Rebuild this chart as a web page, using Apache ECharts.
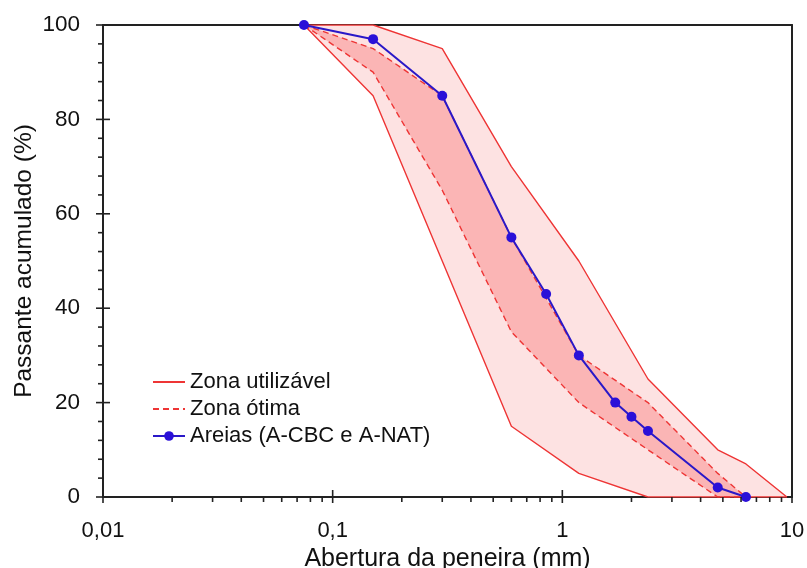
<!DOCTYPE html>
<html>
<head>
<meta charset="utf-8">
<script src="https://cdn.jsdelivr.net/npm/echarts@6/dist/echarts.min.js"></script>
<style>
html,body{margin:0;padding:0;background:#fff;}
#chart{width:807px;height:568px;}
</style>
</head>
<body>
<div id="chart"></div>
<script>
// ---- data ----
var sieves = [0.075, 0.15, 0.3, 0.6, 1.18, 2.36, 4.75, 6.3, 9.5];
var utilUpper = [100, 100, 95, 70, 50, 25, 10, 7, 0];
var utilLower = [100, 85, 50, 15, 5, 0, 0, 0, 0];
var otimaSieves = [0.075, 0.15, 0.3, 0.6, 1.18, 2.36, 4.75, 6.3];
var otimaUpper = [100, 95, 85, 55, 30, 20, 5, 0];
var otimaLower = [100, 90, 65, 35, 20, 10, 0, 0];
var areiasX = [0.075, 0.15, 0.3, 0.6, 0.85, 1.18, 1.7, 2.0, 2.36, 4.75, 6.3];
var areiasY = [100, 97, 85, 55, 43, 30, 20, 17, 14, 2, 0];
var xTickLabels = ['0,01', '0,1', '1', '10'];
var xMajorTicks = [0.01, 0.1, 1, 10];
var xMinorTicks = [0.02, 0.03, 0.04, 0.05, 0.06, 0.07, 0.08, 0.09,
                   0.2, 0.3, 0.4, 0.5, 0.6, 0.7, 0.8, 0.9,
                   2, 3, 4, 5, 6, 7, 8, 9];
var yMajorTicks = [0, 20, 40, 60, 80, 100];
var yMinorTicks = [4, 8, 12, 16, 24, 28, 32, 36, 44, 48, 52, 56, 64, 68, 72, 76, 84, 88, 92, 96];

var FONT = '"Liberation Sans", Arial, sans-serif';
var RED = '#ee3535';
var BLUE = '#2a18c8';

function zip(xs, ys) { return xs.map(function (x, i) { return [x, ys[i]]; }); }

function bandSeries(name, xs, up, lo, color, z) {
  return {
    type: 'custom', name: name, z: z, silent: true,
    coordinateSystem: 'cartesian2d',
    data: [[xs[0], up[0]]],
    renderItem: function (params, api) {
      var pts = [];
      for (var i = 0; i < xs.length; i++) pts.push(api.coord([xs[i], up[i]]));
      for (var j = xs.length - 1; j >= 0; j--) pts.push(api.coord([xs[j], lo[j]]));
      return { type: 'polygon', shape: { points: pts }, style: { fill: color } };
    }
  };
}

var tickSeries = {
  type: 'custom', name: 'ticks', z: 20, silent: true, clip: false,
  coordinateSystem: 'cartesian2d',
  data: [[1, 50]],
  renderItem: function (params, api) {
    var ch = [];
    var st = { stroke: '#222', lineWidth: 1.6 };
    xMajorTicks.forEach(function (v) {
      var p = api.coord([v, 0]);
      ch.push({ type: 'line', shape: { x1: p[0], y1: p[1] - 7, x2: p[0], y2: p[1] + 6 }, style: st });
    });
    xMinorTicks.forEach(function (v) {
      var p = api.coord([v, 0]);
      ch.push({ type: 'line', shape: { x1: p[0], y1: p[1], x2: p[0], y2: p[1] + 5 }, style: st });
    });
    yMajorTicks.forEach(function (v) {
      var p = api.coord([0.01, v]);
      ch.push({ type: 'line', shape: { x1: p[0] - 7, y1: p[1], x2: p[0] + 7, y2: p[1] }, style: st });
    });
    yMinorTicks.forEach(function (v) {
      var p = api.coord([0.01, v]);
      ch.push({ type: 'line', shape: { x1: p[0] - 5, y1: p[1], x2: p[0], y2: p[1] }, style: st });
    });
    return { type: 'group', children: ch };
  }
};

var chart = echarts.init(document.getElementById('chart'), null, { renderer: 'canvas' });
var axisLine = { show: true, onZero: false, lineStyle: { color: '#222', width: 2 } };
var noSymbol = { color: 'rgba(0,0,0,0)', borderWidth: 0, opacity: 0 };
var option = {
  backgroundColor: '#fff',
  animation: false,
  grid: { left: 103, right: 15, top: 25, bottom: 71, containLabel: false, outerBoundsMode: 'none' },
  legend: {
    orient: 'vertical', left: 152, top: 371, padding: 0,
    itemWidth: 32, itemHeight: 12, itemGap: 5,
    textStyle: { fontFamily: FONT, fontSize: 22, color: '#111' },
    data: [
      { name: 'Zona utilizável', itemStyle: noSymbol },
      { name: 'Zona ótima', itemStyle: noSymbol },
      { name: 'Areias (A-CBC e A-NAT)' }
    ]
  },
  xAxis: [{
    type: 'log', logBase: 10, min: 0.01, max: 10,
    position: 'bottom',
    name: 'Abertura da peneira (mm)', nameLocation: 'middle', nameGap: 24,
    nameTextStyle: { fontFamily: FONT, fontSize: 25, color: '#111' },
    axisLine: axisLine,
    axisTick: { show: false },
    splitLine: { show: false },
    axisLabel: {
      margin: 23, fontFamily: FONT, fontSize: 22, color: '#111',
      formatter: function (v, i) { return xTickLabels[i]; }
    }
  }, {
    type: 'log', logBase: 10, min: 0.01, max: 10, position: 'top',
    axisLine: axisLine, axisTick: { show: false }, axisLabel: { show: false }, splitLine: { show: false }
  }],
  yAxis: [{
    type: 'value', min: 0, max: 100, interval: 20,
    name: 'Passante acumulado (%)', nameLocation: 'middle', nameGap: 66,
    nameMoveOverlap: false,
    nameTextStyle: { fontFamily: FONT, fontSize: 24.5, color: '#111' },
    axisLine: axisLine,
    axisTick: { show: false },
    splitLine: { show: false },
    axisLabel: { margin: 23, fontFamily: FONT, fontSize: 22.5, color: '#111' }
  }, {
    type: 'value', min: 0, max: 100, interval: 20, position: 'right',
    axisLine: axisLine, axisTick: { show: false }, axisLabel: { show: false }, splitLine: { show: false }
  }],
  series: [
    bandSeries('band-util', sieves, utilUpper, utilLower, '#fde2e2', 1),
    bandSeries('band-otima', otimaSieves, otimaUpper, otimaLower, '#fbb5b5', 2),
    {
      type: 'line', name: 'Zona utilizável', z: 5, symbol: 'none',
      lineStyle: { color: RED, width: 1.4 }, itemStyle: { color: RED },
      data: zip(sieves, utilUpper)
    },
    {
      type: 'line', name: 'Zona utilizável', z: 5, symbol: 'none',
      lineStyle: { color: RED, width: 1.4 }, itemStyle: { color: RED },
      data: zip(sieves, utilLower)
    },
    {
      type: 'line', name: 'Zona ótima', z: 5, symbol: 'none',
      lineStyle: { color: RED, width: 1.4, type: [6, 4] }, itemStyle: { color: RED },
      data: zip(otimaSieves, otimaUpper)
    },
    {
      type: 'line', name: 'Zona ótima', z: 5, symbol: 'none',
      lineStyle: { color: RED, width: 1.4, type: [6, 4] }, itemStyle: { color: RED },
      data: zip(otimaSieves, otimaLower)
    },
    {
      type: 'line', name: 'Areias (A-CBC e A-NAT)', z: 8,
      symbol: 'circle', symbolSize: 10, showSymbol: true,
      lineStyle: { color: BLUE, width: 2 }, itemStyle: { color: '#2a10d8' },
      data: zip(areiasX, areiasY)
    },
    tickSeries
  ]
};
chart.setOption(option);
</script>
</body>
</html>
